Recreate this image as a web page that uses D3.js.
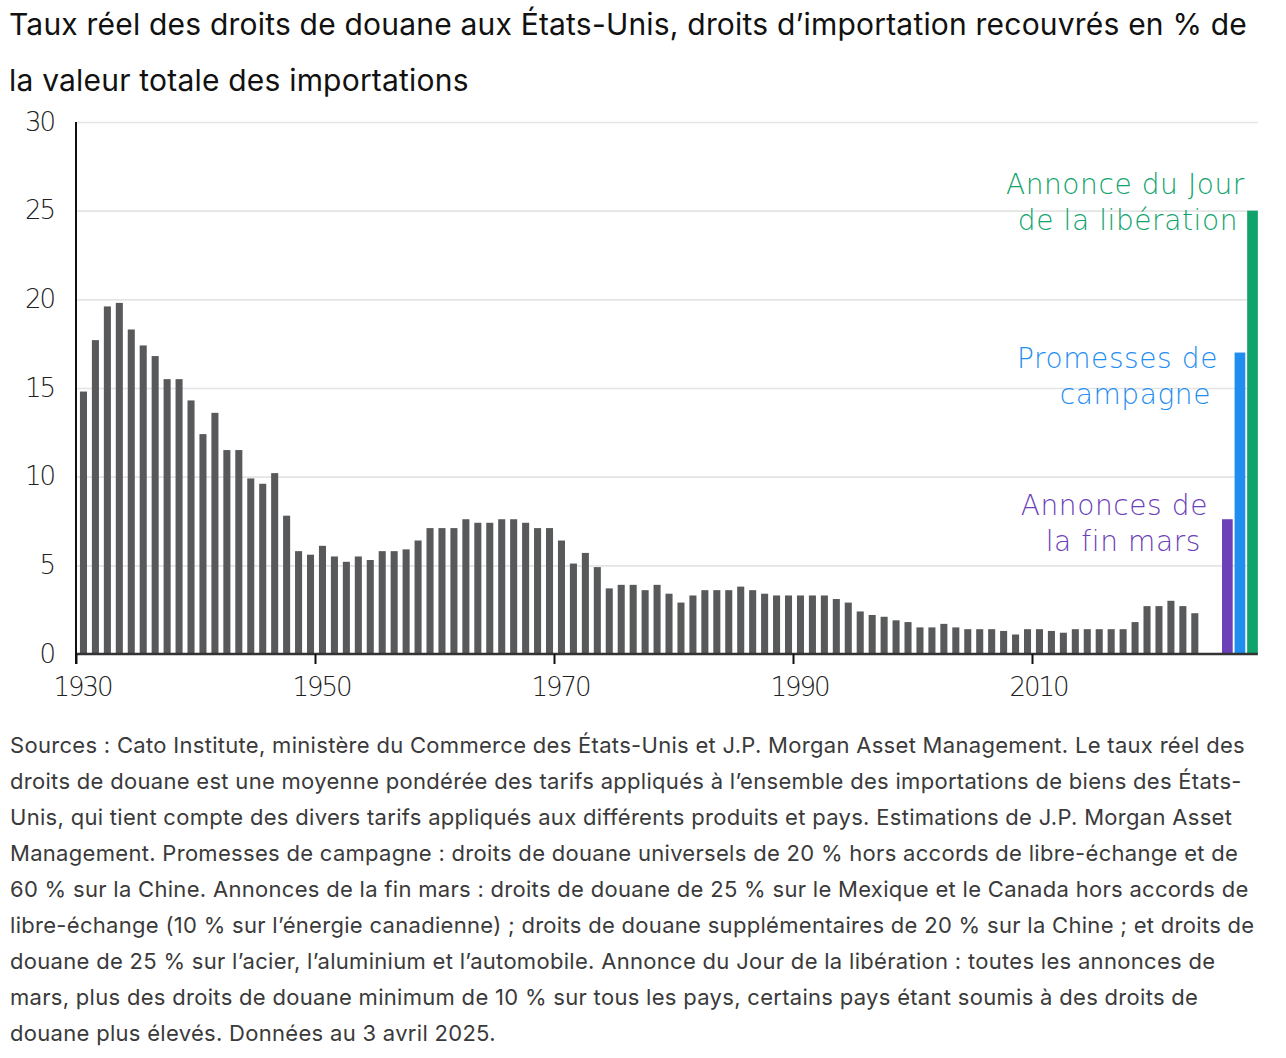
<!DOCTYPE html>
<html>
<head>
<meta charset="utf-8">
<script src="https://cdn.jsdelivr.net/npm/d3@7"></script>
<style>
  body { margin: 0; background: #fff; }
  svg { display: block; }
</style>
</head>
<body>
<svg id="chart" width="1286" height="1058"></svg>
<script>
// yearly effective tariff rate, 1930-2023
const years = d3.range(1930, 2024)
const rates = [
  14.8, 17.7, 19.6, 19.8, 18.3, 17.4, 16.8, 15.5, 15.5, 14.3,
  12.4, 13.6, 11.5, 11.5, 9.9, 9.6, 10.2, 7.8, 5.8, 5.6,
  6.1, 5.5, 5.2, 5.5, 5.3, 5.8, 5.8, 5.9, 6.4, 7.1,
  7.1, 7.1, 7.6, 7.4, 7.4, 7.6, 7.6, 7.4, 7.1, 7.1,
  6.4, 5.1, 5.7, 4.9, 3.7, 3.9, 3.9, 3.6, 3.9, 3.4,
  2.9, 3.3, 3.6, 3.6, 3.6, 3.8, 3.6, 3.4, 3.3, 3.3,
  3.3, 3.3, 3.3, 3.1, 2.9, 2.4, 2.2, 2.1, 1.9, 1.8,
  1.5, 1.5, 1.7, 1.5, 1.4, 1.4, 1.4, 1.3, 1.1, 1.4,
  1.4, 1.3, 1.2, 1.4, 1.4, 1.4, 1.4, 1.4, 1.8, 2.7,
  2.7, 3.0, 2.7, 2.3
]

// 2025 scenarios
const scenarios = ['Annonces de la fin mars', 'Promesses de campagne', 'Annonce du Jour de la libération']
const scenarioRates = [7.6, 17.0, 25.0]
const scenarioColors = ['#6b40b8', '#1f8ef0', '#10a46c']
const scenarioLabels = [
  ['Annonces de', 'la fin mars'],
  ['Promesses de', 'campagne'],
  ['Annonce du Jour', 'de la libération']
]

const yTicks = [0, 5, 10, 15, 20, 25, 30]
const xTicks = [1930, 1950, 1970, 1990, 2010]

const titleLines = [
  'Taux réel des droits de douane aux États-Unis, droits d’importation recouvrés en % de',
  'la valeur totale des importations'
]
const noteLines = [
  'Sources : Cato Institute, ministère du Commerce des États-Unis et J.P. Morgan Asset Management. Le taux réel des',
  'droits de douane est une moyenne pondérée des tarifs appliqués à l’ensemble des importations de biens des États-',
  'Unis, qui tient compte des divers tarifs appliqués aux différents produits et pays. Estimations de J.P. Morgan Asset',
  'Management. Promesses de campagne : droits de douane universels de 20 % hors accords de libre-échange et de',
  '60 % sur la Chine. Annonces de la fin mars : droits de douane de 25 % sur le Mexique et le Canada hors accords de',
  'libre-échange (10 % sur l’énergie canadienne) ; droits de douane supplémentaires de 20 % sur la Chine ; et droits de',
  'douane de 25 % sur l’acier, l’aluminium et l’automobile. Annonce du Jour de la libération : toutes les annonces de',
  'mars, plus des droits de douane minimum de 10 % sur tous les pays, certains pays étant soumis à des droits de',
  'douane plus élevés. Données au 3 avril 2025.'
]

const svg = d3.select('#chart')
const axisFont = '"DejaVu Sans", sans-serif'
const textFont = 'Inter, Roboto, sans-serif'

const x = d3.scaleLinear().domain([1930, 2010]).range([76, 1032])
const y = d3.scaleLinear().domain([0, 30]).range([654, 122])
const xEnd = x(2028.9)

// scenario bars sit just after the last year
const xScen = d3.scaleBand()
  .domain(scenarios)
  .range([x(2025.9), x(2028.9)])
  .paddingInner(0.15)

// title
svg.append('g')
  .selectAll('text')
  .data(titleLines)
  .join('text')
  .attr('x', 9)
  .attr('y', (d, i) => 35 + i * 56)
  .attr('font-family', textFont)
  .attr('font-size', 30)
  .attr('letter-spacing', 0.2)
  .attr('fill', '#111')
  .text(d => d)

// horizontal grid
svg.append('g')
  .attr('transform', `translate(${x(1930)},0)`)
  .call(d3.axisLeft(y)
    .tickValues(yTicks.slice(1))
    .tickSize(-(xEnd - x(1930)))
    .tickFormat(''))
  .call(g => g.select('.domain').remove())
  .call(g => g.selectAll('line').attr('stroke', '#e4e4e4').attr('stroke-width', 1.6))

// y labels
const yAxis = svg.append('g')
  .attr('transform', `translate(${x(1930)},0)`)
  .call(d3.axisLeft(y).tickValues(yTicks).tickSize(0).tickPadding(22))
yAxis.select('.domain').remove()
yAxis.selectAll('text')
  .attr('font-family', axisFont)
  .attr('font-weight', 300)
  .attr('font-size', 26)
  .attr('letter-spacing', -2)
  .attr('fill', '#222')

// gray bars
svg.append('g')
  .selectAll('rect')
  .data(years)
  .join('rect')
  .attr('x', d => x(d + 0.33))
  .attr('y', (d, i) => y(rates[i]))
  .attr('width', d => x(d + 0.92) - x(d + 0.33))
  .attr('height', (d, i) => y(0) - y(rates[i]))
  .attr('fill', '#58595b')

// scenario bars
svg.append('g')
  .selectAll('rect')
  .data(scenarios)
  .join('rect')
  .attr('x', d => xScen(d))
  .attr('y', (d, i) => y(scenarioRates[i]))
  .attr('width', xScen.bandwidth())
  .attr('height', (d, i) => y(0) - y(scenarioRates[i]))
  .attr('fill', (d, i) => scenarioColors[i])

// baseline
svg.append('line')
  .attr('x1', x(1930)).attr('x2', xEnd)
  .attr('y1', y(0)).attr('y2', y(0))
  .attr('stroke', '#333')
  .attr('stroke-width', 2.5)

// y axis line
svg.append('line')
  .attr('x1', x(1930)).attr('x2', x(1930))
  .attr('y1', y(30)).attr('y2', y(0) + 10)
  .attr('stroke', '#111')
  .attr('stroke-width', 2)

// x axis
const xAxis = svg.append('g')
  .attr('transform', `translate(0,${y(0)})`)
  .call(d3.axisBottom(x).tickValues(xTicks).tickFormat(d3.format('d')).tickSize(10).tickPadding(14))
xAxis.select('.domain').remove()
xAxis.selectAll('line').attr('stroke', '#111').attr('stroke-width', 2)
xAxis.selectAll('text')
  .attr('font-family', axisFont)
  .attr('font-weight', 300)
  .attr('font-size', 26)
  .attr('letter-spacing', -2)
  .attr('dx', 6)
  .attr('fill', '#222')

// scenario labels, right aligned next to each bar
const labelTop = [505, 358, 184]
const labelRight = [1208, 1218, 1245]
scenarioLabels.forEach((lines, i) => {
  svg.append('text')
    .attr('text-anchor', 'end')
    .attr('font-family', axisFont)
    .attr('font-weight', 300)
    .attr('font-size', 28)
    .attr('letter-spacing', 0.6)
    .attr('fill', scenarioColors[i])
    .selectAll('tspan')
    .data(lines)
    .join('tspan')
    .attr('x', (d, j) => labelRight[i] - j * 7)
    .attr('y', (d, j) => labelTop[i] + 10 + j * 36)
    .text(d => d)
})

// footnote
svg.append('g')
  .selectAll('text')
  .data(noteLines)
  .join('text')
  .attr('x', 10)
  .attr('y', (d, i) => 753 + i * 36)
  .attr('font-family', textFont)
  .attr('font-size', 22)
  .attr('letter-spacing', 0.3)
  .attr('fill', '#3a3a3a')
  .text(d => d)
</script>
</body>
</html>
